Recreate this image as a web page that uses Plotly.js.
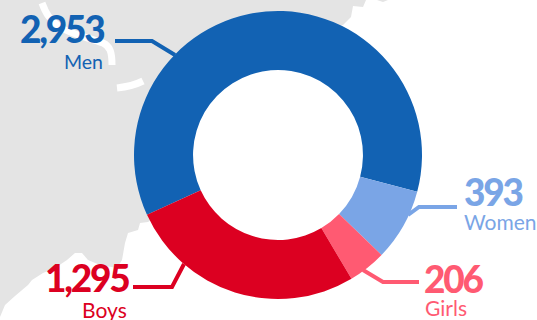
<!DOCTYPE html>
<html>
<head>
<meta charset="utf-8">
<script src="https://cdn.plot.ly/plotly-3.0.1.min.js"></script>
<style>
html, body { margin: 0; padding: 0; background: #fff; overflow: hidden; }
#chart { width: 537px; height: 320px; }
/* Tight, heavy setting for the bold counts */
.annotation-text tspan { letter-spacing: -2.2px; font-weight: 900 !important; }
</style>
</head>
<body>
<div id="chart"></div>
<script>
// Victims by group, in clockwise order starting from the men's slice
const groups = ['Men', 'Women', 'Girls', 'Boys'];
const counts = [2953, 393, 206, 1295];
const countLabels = ['2,953', '393', '206', '1,295'];
const groupColors = ['#1262B3', '#7AA5E6', '#FF5A72', '#DC0021'];
const nameSizes = [19.5, 21, 21, 21];

const W = 537, H = 320;
const FONT = 'Lato, "Open Sans", sans-serif';
const px = x => x / W;
const py = y => 1 - y / H;

// Grey land mass behind the ring, in page pixels; the inland edge runs under the ring
const coastline = [[0,0],[366,0],[363,7],[353,6],[351,17],[343,25],[278,40],[190,80],[163,155],[175,205],
  [148,222],[140,223],[138,230],[128,233],[125,243],[122,260],[117,268],[100,265],[88,260],[82,253],
  [75,253],[67,260],[55,268],[43,273],[32,280],[28,285],[15,296],[5,305],[0,317]];
const islet = [[377,0],[383,2],[388,0]];
const roadNorth = 'M42 3 C46 14 50 20 60 27 S90 38 103 43 C110 46 112 52 112 65';
const roadSouth = 'M117 88 C126 87 135 85 143 81';

// Leader lines from each slice to its label
const leaders = [
  [[115,41],[152,41],[175,55]],
  [[457,207],[419,207],[408,215]],
  [[419,282],[383,282],[363,270]],
  [[133,287],[172,287],[184,264]]
];

// Label anchors: value text and group name
const valueAnchors = [[105,29,'right'],[463,191,'left'],[423,278,'left'],[130,277,'right']];
const nameAnchors = [[104,61,'right'],[463,221,'left'],[424,307,'left'],[128,309,'right']];

const toPath = pts => 'M' + pts.map(p => px(p[0]) + ' ' + py(p[1])).join(' L') + ' Z';
const toOpenPath = pts => 'M' + pts.map(p => px(p[0]) + ' ' + py(p[1])).join(' L');

const pixelPath = d => d.replace(/([MCS ])(-?[\d.]+) (-?[\d.]+)/g,
  (m, c, x, y) => c + px(+x) + ' ' + py(+y));

const shapes = [
  { type: 'path', xref: 'paper', yref: 'paper', path: toPath(coastline), fillcolor: '#E4E4E4', line: { width: 0 }, layer: 'below' },
  { type: 'path', xref: 'paper', yref: 'paper', path: toPath(islet), fillcolor: '#E4E4E4', line: { width: 0 }, layer: 'below' },
  { type: 'path', xref: 'paper', yref: 'paper', path: pixelPath(roadNorth), line: { color: '#fff', width: 7 }, layer: 'below' },
  { type: 'path', xref: 'paper', yref: 'paper', path: pixelPath(roadSouth), line: { color: '#fff', width: 7 }, layer: 'below' }
];
leaders.forEach((pts, i) => shapes.push({
  type: 'path', xref: 'paper', yref: 'paper',
  path: toOpenPath(pts),
  line: { color: groupColors[i], width: 4 }, layer: 'above'
}));

const annotations = [];
groups.forEach((g, i) => {
  annotations.push({
    xref: 'paper', yref: 'paper', x: px(valueAnchors[i][0]), y: py(valueAnchors[i][1]),
    xanchor: valueAnchors[i][2], yanchor: 'middle', showarrow: false, borderpad: 0,
    text: '<b>' + countLabels[i] + '</b>', font: { family: FONT, size: 37, color: groupColors[i] }
  });
  annotations.push({
    xref: 'paper', yref: 'paper', x: px(nameAnchors[i][0]), y: py(nameAnchors[i][1]),
    xanchor: nameAnchors[i][2], yanchor: 'middle', showarrow: false, borderpad: 0,
    text: g, font: { family: FONT, size: nameSizes[i], color: groupColors[i] }
  });
});

Plotly.newPlot('chart', [{
  type: 'pie',
  labels: groups,
  values: counts,
  sort: false,
  direction: 'clockwise',
  rotation: 245.5,
  hole: 0.59,
  textinfo: 'none',
  hoverinfo: 'label+value',
  marker: { colors: groupColors, line: { width: 0 } },
  domain: { x: [px(134), px(422)], y: [py(299), py(11)] }
}], {
  width: W, height: H,
  margin: { l: 0, r: 0, t: 0, b: 0 },
  paper_bgcolor: '#fff',
  showlegend: false,
  shapes, annotations
}, { staticPlot: true, displayModeBar: false });
</script>
</body>
</html>
